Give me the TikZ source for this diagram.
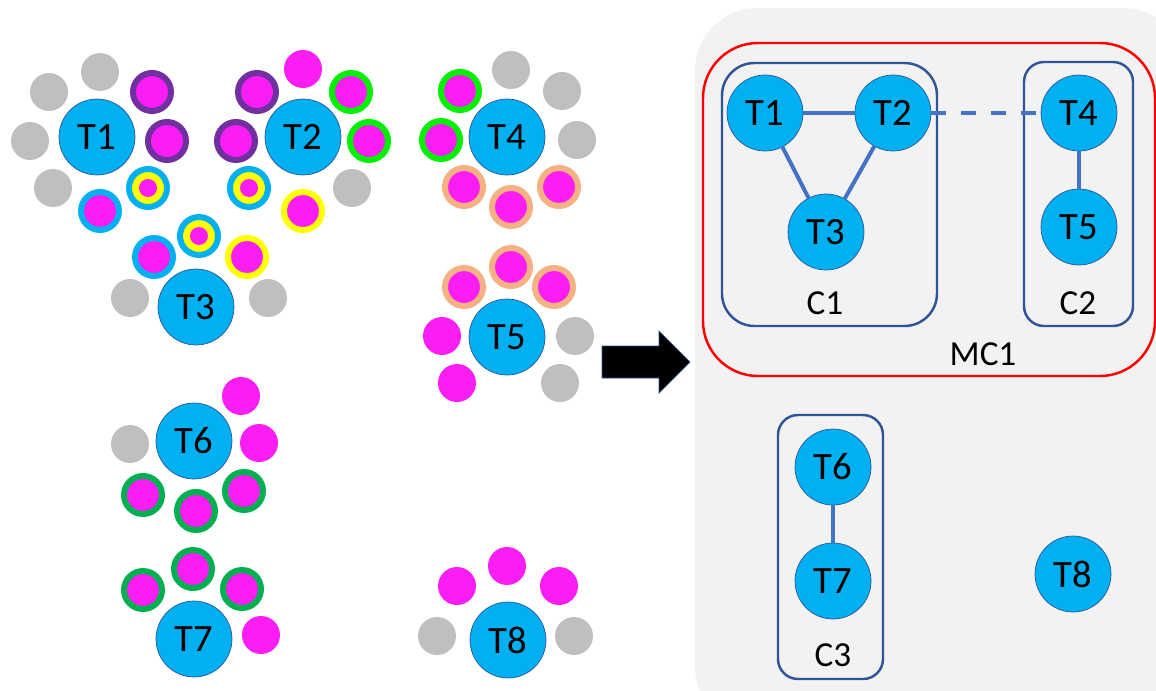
\documentclass[tikz,border=0pt]{standalone}
\usepackage{fontspec}
\setmainfont{Carlito}
\usepackage{xcolor}
\usepackage{tikz}
\usetikzlibrary{shapes,arrows,positioning}
\definecolor{tblue}{RGB}{0,176,240}
\definecolor{tline}{RGB}{47,85,151}
\definecolor{edgeblue}{RGB}{68,114,196}
\definecolor{pink}{RGB}{250,30,245}
\definecolor{grey}{RGB}{191,191,191}
\definecolor{purp}{RGB}{112,48,160}
\definecolor{lgreen}{RGB}{0,240,0}
\definecolor{dgreen}{RGB}{0,176,80}
\definecolor{peach}{RGB}{244,177,131}
\definecolor{yell}{RGB}{255,255,0}
\definecolor{panel}{RGB}{242,242,242}
\definecolor{hi}{RGB}{255,0,0}
\tikzstyle{task} = [circle, draw=tline, line width=0.4pt, fill=tblue, minimum size=1.52cm, inner sep=0pt, font=\fontsize{22}{26}\selectfont]
\tikzstyle{idle} = [circle, fill=grey, minimum size=0.76cm, inner sep=0pt]
\tikzstyle{free} = [circle, fill=pink, minimum size=0.76cm, inner sep=0pt]
\tikzstyle{res} = [circle, fill=pink, minimum size=0.76cm, inner sep=0pt, line width=0.12cm]
\tikzstyle{core} = [circle, fill=pink, minimum size=0.36cm, inner sep=0pt]
\tikzstyle{cluster} = [draw=tline, line width=1.4pt]
\tikzstyle{tag} = [font=\fontsize{20}{24}\selectfont]
\tikzstyle{line} = [draw=edgeblue, line width=0.08cm]

\begin{document}
\begin{tikzpicture}[x=0.02cm, y=-0.02cm]
    \clip (0,0) rectangle (1156,690);
    \fill [panel, rounded corners=1.25cm] (695,8) rectangle (1185,730);

    \node [task] (a1) at (97,137) {T1};
    \node [idle] (s11) at (100,72) {};
    \node [idle] (s12) at (49,92) {};
    \node [idle] (s13) at (30,141) {};
    \node [idle] (s14) at (53,188) {};
    \node [res, draw=purp] (s15) at (152,92) {};
    \node [res, draw=purp] (s16) at (167,141) {};
    \node [res, draw=tblue] (s17) at (100,211) {};
    \node [res, draw=tblue, fill=yell] (s18) at (148,188) {};
    \node [core] (s18c) at (s18) {};

    \node [task] (a2) at (303,137) {T2};
    \node [res, draw=purp] (s21) at (257,92) {};
    \node [res, draw=purp] (s22) at (236,141) {};
    \node [free] (s23) at (303,69) {};
    \node [res, draw=lgreen] (s24) at (351,92) {};
    \node [res, draw=lgreen] (s25) at (369,141) {};
    \node [idle] (s26) at (352,188) {};
    \node [res, draw=yell] (s27) at (303,211) {};
    \node [res, draw=tblue, fill=yell] (s28) at (249,188) {};
    \node [core] (s28c) at (s28) {};

    \node [task] (a3) at (196,307) {T3};
    \node [res, draw=tblue] (s31) at (154,257) {};
    \node [res, draw=tblue, fill=yell] (s32) at (199,236) {};
    \node [core] (s32c) at (s32) {};
    \node [res, draw=yell] (s33) at (247,257) {};
    \node [idle] (s34) at (130,298) {};
    \node [idle] (s35) at (268,298) {};

    \node [task] (a4) at (507,137) {T4};
    \node [idle] (s41) at (511,70) {};
    \node [idle] (s42) at (562,91) {};
    \node [idle] (s43) at (577,140) {};
    \node [res, draw=lgreen] (s44) at (460,91) {};
    \node [res, draw=lgreen] (s45) at (441,140) {};
    \node [res, draw=peach] (s46) at (464,187) {};
    \node [res, draw=peach] (s47) at (511,207) {};
    \node [res, draw=peach] (s48) at (559,187) {};

    \node [task] (a5) at (507,337) {T5};
    \node [res, draw=peach] (s51) at (511,267) {};
    \node [res, draw=peach] (s52) at (464,287) {};
    \node [res, draw=peach] (s53) at (554,287) {};
    \node [free] (s54) at (442,336) {};
    \node [free] (s55) at (457,383) {};
    \node [idle] (s56) at (575,336) {};
    \node [idle] (s57) at (560,383) {};

    \node [task] (a6) at (194,441) {T6};
    \node [idle] (s61) at (130,444) {};
    \node [free] (s62) at (241,396) {};
    \node [free] (s63) at (259,443) {};
    \node [res, draw=dgreen] (s64) at (143,495) {};
    \node [res, draw=dgreen] (s65) at (196,511) {};
    \node [res, draw=dgreen] (s66) at (244,491) {};

    \node [task] (a7) at (194,639) {T7};
    \node [res, draw=dgreen] (s71) at (143,590) {};
    \node [res, draw=dgreen] (s72) at (193,569) {};
    \node [res, draw=dgreen] (s73) at (242,589) {};
    \node [free] (s74) at (261,635) {};

    \node [task] (a8) at (508,640) {T8};
    \node [free] (s81) at (457,586) {};
    \node [free] (s82) at (507,566) {};
    \node [free] (s83) at (559,586) {};
    \node [idle] (s84) at (437,636) {};
    \node [idle] (s85) at (574,636) {};

    \draw [fill=black, draw=tline, line width=0.4pt] (602,346) -- (659,346) -- (659,331) -- (690,362) -- (659,393) -- (659,378) -- (602,378) -- cycle;

    \draw [hi, line width=1.4pt, rounded corners=1.1cm] (703,43) rectangle (1155,376);
    \draw [cluster, rounded corners=0.65cm] (722,63) rectangle (937,326);
    \draw [cluster, rounded corners=0.4cm] (1024,62) rectangle (1133,326);
    \draw [cluster, rounded corners=0.4cm] (778,415) rectangle (883,679);

    \node [task] (t1) at (765,113) {T1};
    \node [task] (t2) at (893,113) {T2};
    \node [task] (t3) at (826,232) {T3};
    \node [task] (t4) at (1079,113) {T4};
    \node [task] (t5) at (1079,227) {T5};
    \node [task] (t6) at (833,467) {T6};
    \node [task] (t7) at (833,581) {T7};
    \node [task] (t8) at (1073,574) {T8};
    \node [tag] (c1) at (825,303) {C1};
    \node [tag] (c2) at (1078,303) {C2};
    \node [tag] (c3) at (833,655) {C3};
    \node [tag] (mc1) at (983,354) {MC1};

    \path [line] (t1) -- (t2);
    \path [line] (t1) -- (t3);
    \path [line] (t2) -- (t3);
    \path [line, dash pattern=on 0.3cm off 0.3cm] (t2) -- (t4);
    \path [line] (t4) -- (t5);
    \path [line] (t6) -- (t7);
\end{tikzpicture}
\end{document}
